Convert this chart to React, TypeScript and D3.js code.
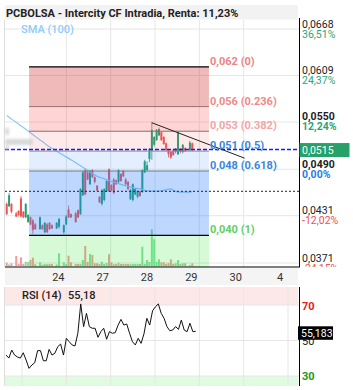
import React from "react";
import * as d3 from "d3";

const W = 353;
const H = 390;

// time slot of each bar (gaps = no trades)
const slots = [0, 1, 2, 4, 5, 6, 7, 8, 9, 10, 11, 12, 14, 15, 16, 17, 18, 19, 21, 22, 24, 25, 26, 27, 29, 30, 31, 32, 33, 34, 35, 36, 37, 38, 39, 40, 41, 42, 43, 44, 45, 46, 47, 48, 49, 50, 51, 52, 53, 54, 55, 56, 57, 58, 59, 60, 61, 62, 63, 64, 65, 66, 67, 68, 69, 70, 71, 72, 73, 74, 75, 77, 78];

const opens = [0.0446, 0.0443, 0.0446, 0.0434, 0.0437, 0.0453, 0.0436, 0.0429, 0.0423, 0.0429,
  0.0425, 0.0420, 0.0414, 0.0419, 0.0410, 0.0420, 0.0422, 0.0419, 0.0415, 0.0417,
  0.0410, 0.0420, 0.0439, 0.0433, 0.0434, 0.0438, 0.0433, 0.0457, 0.0489, 0.0486,
  0.0471, 0.0489, 0.0480, 0.0469, 0.0455, 0.0446, 0.0451, 0.0462, 0.0490, 0.0470,
  0.0477, 0.0476, 0.0474, 0.0484, 0.0488, 0.0477, 0.0474, 0.0452, 0.0451, 0.0458,
  0.0455, 0.0462, 0.0461, 0.0486, 0.0489, 0.0503, 0.0514, 0.0521, 0.0527, 0.0533,
  0.0537, 0.0531, 0.0523, 0.0514, 0.0512, 0.0514, 0.0512, 0.0509, 0.0516, 0.0512,
  0.0517, 0.0514, 0.0523];
const highs = [0.0448, 0.0460, 0.0447, 0.0436, 0.0438, 0.0456, 0.0437, 0.0447, 0.0433, 0.0430,
  0.0427, 0.0422, 0.0430, 0.0420, 0.0423, 0.0422, 0.0423, 0.0420, 0.0423, 0.0428,
  0.0420, 0.0432, 0.0444, 0.0434, 0.0436, 0.0439, 0.0466, 0.0488, 0.0491, 0.0488,
  0.0489, 0.0490, 0.0481, 0.0470, 0.0456, 0.0465, 0.0466, 0.0476, 0.0491, 0.0471,
  0.0479, 0.0477, 0.0490, 0.0485, 0.0489, 0.0479, 0.0475, 0.0465, 0.0472, 0.0466,
  0.0463, 0.0463, 0.0490, 0.0502, 0.0500, 0.0517, 0.0550, 0.0532, 0.0541, 0.0543,
  0.0538, 0.0532, 0.0524, 0.0516, 0.0513, 0.0516, 0.0517, 0.0538, 0.0517, 0.0522,
  0.0518, 0.0526, 0.0524];
const lows = [0.0432, 0.0442, 0.0434, 0.0429, 0.0430, 0.0429, 0.0428, 0.0428, 0.0422, 0.0419,
  0.0408, 0.0413, 0.0413, 0.0413, 0.0409, 0.0409, 0.0413, 0.0414, 0.0414, 0.0415,
  0.0408, 0.0419, 0.0428, 0.0428, 0.0422, 0.0428, 0.0432, 0.0456, 0.0457, 0.0476,
  0.0470, 0.0479, 0.0472, 0.0462, 0.0447, 0.0444, 0.0449, 0.0461, 0.0461, 0.0462,
  0.0458, 0.0470, 0.0472, 0.0474, 0.0480, 0.0470, 0.0463, 0.0451, 0.0449, 0.0457,
  0.0453, 0.0455, 0.0460, 0.0485, 0.0488, 0.0499, 0.0502, 0.0519, 0.0526, 0.0532,
  0.0526, 0.0521, 0.0513, 0.0505, 0.0503, 0.0507, 0.0510, 0.0508, 0.0510, 0.0510,
  0.0512, 0.0513, 0.0513];
const closes = [0.0433, 0.0457, 0.0436, 0.0430, 0.0432, 0.0430, 0.0429, 0.0446, 0.0432, 0.0420,
  0.0413, 0.0414, 0.0429, 0.0414, 0.0422, 0.0410, 0.0414, 0.0415, 0.0422, 0.0427,
  0.0419, 0.0430, 0.0429, 0.0429, 0.0423, 0.0429, 0.0465, 0.0486, 0.0458, 0.0477,
  0.0488, 0.0480, 0.0474, 0.0463, 0.0448, 0.0463, 0.0465, 0.0475, 0.0462, 0.0463,
  0.0460, 0.0471, 0.0489, 0.0475, 0.0481, 0.0471, 0.0465, 0.0463, 0.0471, 0.0465,
  0.0462, 0.0456, 0.0489, 0.0500, 0.0495, 0.0516, 0.0540, 0.0531, 0.0540, 0.0541,
  0.0527, 0.0522, 0.0514, 0.0509, 0.0505, 0.0508, 0.0516, 0.0537, 0.0512, 0.0521,
  0.0513, 0.0524, 0.0515];
const volumes = [3.3, 1.5, 2.7, 10, 2, 8.7, 2, 4.3, 4, 6, 8.3, 1.7, 3.7, 1.3, 2, 1.7, 2, 2, 1.5, 12.7,
  3.7, 2, 10.3, 3.7, 2, 2, 2, 6, 20, 4, 12, 11, 2.7, 2.7, 2, 4.3, 2, 3, 11.7, 3.7,
  1.7, 2, 3.3, 2, 2, 2, 2, 1.7, 2, 2, 2, 2, 19.3, 2, 6, 4, 36.7, 26.7, 4, 6.7,
  3.7, 3.7, 2, 3, 6.7, 2, 2.7, 6, 2, 2.7, 2.7, 1, 2.7];
const sma100 = [0.05583, 0.05561, 0.05539, 0.05495, 0.05473, 0.05450, 0.05429, 0.05407, 0.05384, 0.05361,
  0.05340, 0.05317, 0.05272, 0.05251, 0.05228, 0.05205, 0.05184, 0.05166, 0.05129, 0.05110,
  0.05075, 0.05057, 0.05038, 0.05020, 0.04982, 0.04963, 0.04944, 0.04926, 0.04907, 0.04888,
  0.04866, 0.04846, 0.04826, 0.04811, 0.04799, 0.04789, 0.04779, 0.04768, 0.04757, 0.04747,
  0.04737, 0.04728, 0.04718, 0.04710, 0.04700, 0.04693, 0.04684, 0.04676, 0.04667, 0.04660,
  0.04656, 0.04651, 0.04641, 0.04632, 0.04627, 0.04622, 0.04622, 0.04622, 0.04622, 0.04622,
  0.04627, 0.04633, 0.04639, 0.04647, 0.04647, 0.04633, 0.04620, 0.04611, 0.04609, 0.04609,
  0.04609, 0.04609, 0.04615];
const rsi14 = [41.8, 40.1, 44.6, 41.8, 40.7, 40.1, 43.1, 39.0, 34.3, 36.2,
  37.5, 44.3, 44.3, 38.6, 38.6, 45.0, 41.8, 42.8, 46.5, 48.0,
  41.8, 51.2, 49.3, 47.5, 46.9, 54.1, 70.6, 57.8, 65.3, 57.8,
  56.9, 56.9, 51.8, 55.0, 56.9, 50.7, 55.0, 54.1, 54.4, 58.7,
  61.9, 58.7, 59.3, 54.1, 49.3, 47.5, 51.2, 48.4, 53.7, 62.5,
  58.7, 66.8, 69.0, 70.6, 65.3, 62.5, 57.8, 55.5, 55.9, 57.8,
  56.3, 61.5, 55.9, 55.0, 59.7, 55.0, 55.18];

const priceTicks = [0.0668, 0.0609, 0.055, 0.049, 0.0431, 0.0371];
const priceTickLabels = ["0,0668", "0,0609", "0,0550", "0,0490", "0,0431", "0,0371"];
const pctTickLabels = ["36,51%", "24,37%", "12,24%", "0,00%", "-12,02%", "-24,15%"];
const boldTicks = [false, false, true, true, false, false];

const fibHigh = 0.062;
const fibLow = 0.0406;
const fibFromSlot = 9.4;
const fibToSlot = 85;
const fibRatios = [0, 0.236, 0.382, 0.5, 0.618, 1];
const fibLabels = ["0,062 (0)", "0,056 (0.236)", "0,053 (0.382)", "0,051 (0.5)", "0,048 (0.618)", "0,040 (1)"];

const dayLabels = ["", "24", "27", "28", "29", "30", "4"];
const trendSlots = [61, 100];
const trendPrices = [0.0549, 0.0504];
const lastPrice = 0.0515;
const refPrice = 0.0462;
const rsiLast = 55.183;

const UP = "#22a079";
const DOWN = "#ef5350";
const FONT = "Roboto, sans-serif";

export default function App() {
  const left = 5;
  const right = 299.5;
  const top = 20;
  const bottom = 267;

  const x = d3.scaleLinear().domain([0, 78]).range([6.7, 192.3]);
  const y = d3.scaleLinear().domain([0.0371, 0.0668]).range([263, 29]);
  const yVol = d3.scaleLinear().domain([0, 40]).range([266, 226]);
  const xDay = d3.scaleLinear().domain([0, dayLabels.length - 1]).range([22, 288]);
  const xRsi = d3.scaleLinear().domain([0, rsi14.length - 1]).range([6, 195.7]);
  const yRsi = d3.scaleLinear().domain([30, 70]).range([376, 305]);

  const fibY = (r: number) => y(fibHigh - r * (fibHigh - fibLow));
  const fx0 = x(fibFromSlot);
  const fx1 = x(fibToSlot);

  const smaLine = d3
    .line<number>()
    .x((_, i) => x(slots[i]))
    .y((d) => y(d))
    .curve(d3.curveMonotoneX);
  const rsiLine = d3
    .line<number>()
    .x((_, i) => xRsi(i))
    .y((d) => yRsi(d));

  const zones = [
    { fill: "#d32f2f", op: 0.33 },
    { fill: "#ff5252", op: 0.25 },
    { fill: "#ff5252", op: 0.12 },
    { fill: "#2979ff", op: 0.13 },
    { fill: "#2979ff", op: 0.3 },
  ];
  const fibColors = ["#ec8585", "#f08a8a", "#f5a5a5", "#3b86e0", "#3b86e0", "#62cf62"];
  const fibStroke = ["#000", "#9a7070", "#8c6c6c", "#8a8a9a", "#6e7a8a", "#000"];

  return (
    <svg
      width={W}
      height={H}
      style={{ position: "absolute", left: 0, top: 0, fontFamily: FONT }}
    >
      <defs>
        <clipPath id="plot">
          <rect x={left} y={top} width={right - left} height={bottom - top} />
        </clipPath>
        <clipPath id="axis">
          <rect x={right} y={top} width={W - right} height={bottom - top} />
        </clipPath>
        <filter id="blur">
          <feGaussianBlur stdDeviation="1.4" />
        </filter>
      </defs>
      <rect width={W} height={H} fill="#fff" />

      {/* title bar */}
      <rect x={left} y={5} width={293} height={14.5} fill="#f2f2f2" />
      <text x={6} y={17} fontSize={11} fontWeight="bold" fill="#222">
        PCBOLSA - Intercity CF Intradia, Renta: 11,23%
      </text>

      {/* grid */}
      <line x1={4.5} x2={4.5} y1={top} y2={bottom} stroke="#ddd" />
      {priceTicks.map((t, i) => (
        <line key={i} x1={left} x2={right} y1={y(t)} y2={y(t)} stroke="#e6e6e6" />
      ))}
      {dayLabels.map((d, i) =>
        i === 0 || i === dayLabels.length - 1 ? null : (
          <line key={i} x1={xDay(i)} x2={xDay(i)} y1={top} y2={bottom} stroke="#e6e6e6" />
        )
      )}

      <g clipPath="url(#plot)">
        {/* volume */}
        {volumes.map((v, i) => (
          <rect
            key={i}
            x={x(slots[i]) - 1}
            y={yVol(v)}
            width={2}
            height={yVol(0) - yVol(v)}
            fill={closes[i] >= opens[i] ? "#7fe0a0" : "#f79a9a"}
          />
        ))}
        {/* candles */}
        {opens.map((o, i) => {
          const c = closes[i];
          const col = c >= o ? UP : DOWN;
          const cx = x(slots[i]);
          const yt = y(Math.max(o, c));
          const yb = y(Math.min(o, c));
          return (
            <g key={i}>
              <line x1={cx} x2={cx} y1={y(highs[i])} y2={y(lows[i])} stroke={col} strokeWidth={0.8} />
              <rect x={cx - 1} y={yt} width={2} height={Math.max(1, yb - yt)} fill={col} />
            </g>
          );
        })}
        {/* SMA */}
        <path d={smaLine(sma100) || ""} fill="none" stroke="#8ccbf5" strokeWidth={1.2} />

        {/* fibonacci zones */}
        {zones.map((z, i) => (
          <rect
            key={i}
            x={fx0}
            y={fibY(fibRatios[i])}
            width={fx1 - fx0}
            height={fibY(fibRatios[i + 1]) - fibY(fibRatios[i])}
            fill={z.fill}
            opacity={z.op}
          />
        ))}
        <rect
          x={fx0}
          y={fibY(1)}
          width={fx1 - fx0}
          height={bottom - fibY(1)}
          fill="#2ee82e"
          opacity={0.2}
        />
        {fibRatios.map((r, i) => (
          <line
            key={i}
            x1={fx0}
            x2={fx1}
            y1={fibY(r)}
            y2={fibY(r)}
            stroke={fibStroke[i]}
            strokeWidth={i === 0 || i === 5 ? 1.3 : 1}
          />
        ))}

        {/* trend line */}
        <line
          x1={x(trendSlots[0])}
          y1={y(trendPrices[0])}
          x2={x(trendSlots[1])}
          y2={y(trendPrices[1])}
          stroke="#222"
          strokeWidth={1}
        />

        {/* reference + last price */}
        <line x1={left} x2={right} y1={y(refPrice)} y2={y(refPrice)} stroke="#222" strokeDasharray="2,2" />
        <line
          x1={left}
          x2={right}
          y1={y(lastPrice)}
          y2={y(lastPrice)}
          stroke="#1a1aff"
          strokeWidth={1.4}
          strokeDasharray="4,2"
        />
      </g>

      {fibRatios.map((r, i) => (
        <text key={i} x={fx1 + 1} y={fibY(r) - 2} fontSize={11} fontWeight="bold" fill={fibColors[i]}>
          {fibLabels[i]}
        </text>
      ))}

      {/* blurred legend remnant */}
      <g filter="url(#blur)" fill="#cfcfcf" opacity={0.8}>
        <rect x={5} y={128} width={4} height={7} />
        <rect x={5} y={139} width={28} height={6} />
        <rect x={5} y={146} width={4} height={4} />
      </g>

      <text x={21} y={33} fontSize={11} fontWeight={500} fill="#8ecdf7">
        SMA (100)
      </text>

      {/* right axis */}
      <line x1={right} x2={right} y1={18} y2={bottom} stroke="#000" />
      <g clipPath="url(#axis)">
        {priceTicks.map((t, i) => (
          <g key={i} fontSize={10.5} fontWeight={boldTicks[i] ? "bold" : "normal"}>
            <text x={302} y={y(t) - 1.5} fill="#222">
              {priceTickLabels[i]}
            </text>
            <text
              x={302}
              y={y(t) + 8.5}
              fill={i === 3 ? "#2a7de1" : i > 3 ? "#f05050" : "#2aa674"}
            >
              {pctTickLabels[i]}
            </text>
          </g>
        ))}
      </g>
      <rect x={right} y={y(lastPrice) - 6.5} width={50} height={14} fill="#26a269" />
      <text x={302} y={y(lastPrice) + 4.5} fontSize={10.5} fill="#fff">
        {priceTickLabels[0].slice(0, 2) + lastPrice.toFixed(4).slice(2)}
      </text>

      {/* x axis */}
      <rect x={left} y={bottom + 1} width={293} height={17} fill="#f4f4f4" />
      <line x1={left} x2={right + 0.5} y1={bottom} y2={bottom} stroke="#000" strokeWidth={1.2} />
      {dayLabels.map((d, i) => (
        <text key={i} x={xDay(i) - 8} y={281} fontSize={11} fill="#333" textAnchor="middle">
          {d}
        </text>
      ))}

      {/* RSI panel */}
      <rect x={left} y={287} width={293} height={yRsi(70) - 287} fill="#fde8e8" />
      <rect x={left} y={yRsi(30)} width={293} height={386 - yRsi(30)} fill="#e0fbe0" />
      <line x1={4.5} x2={4.5} y1={287} y2={386} stroke="#ddd" />
      {[70, 50, 30].map((v) => (
        <line key={v} x1={left} x2={right} y1={yRsi(v)} y2={yRsi(v)} stroke="#e6e6e6" />
      ))}
      {dayLabels.map((d, i) => (
        <line key={i} x1={xDay(i)} x2={xDay(i)} y1={287} y2={386} stroke="#e6e6e6" />
      ))}
      <path d={rsiLine(rsi14) || ""} fill="none" stroke="#111" strokeWidth={1} />
      <text x={22} y={299} fontSize={11} fontWeight={500} fill="#222">
        RSI (14)
      </text>
      <text x={68} y={299} fontSize={11} fontWeight={500} fill="#222">
        {rsiLast.toFixed(2).replace(".", ",")}
      </text>
      <line x1={right} x2={right} y1={287} y2={386} stroke="#000" />
      <text x={302} y={yRsi(70) + 4.5} fontSize={11} fontWeight="bold" fill="#e82020">
        70
      </text>
      <text x={302} y={yRsi(50) + 4.5} fontSize={11} fill="#222">
        50
      </text>
      <text x={302} y={yRsi(30) + 4} fontSize={11} fontWeight="bold" fill="#1a9a1a">
        30
      </text>
      <rect x={298} y={yRsi(rsiLast) - 5} width={35} height={13.5} fill="#000" />
      <text x={301} y={yRsi(rsiLast) + 6} fontSize={10.5} fill="#fff">
        {rsiLast.toFixed(3).replace(".", ",")}
      </text>
    </svg>
  );
}
